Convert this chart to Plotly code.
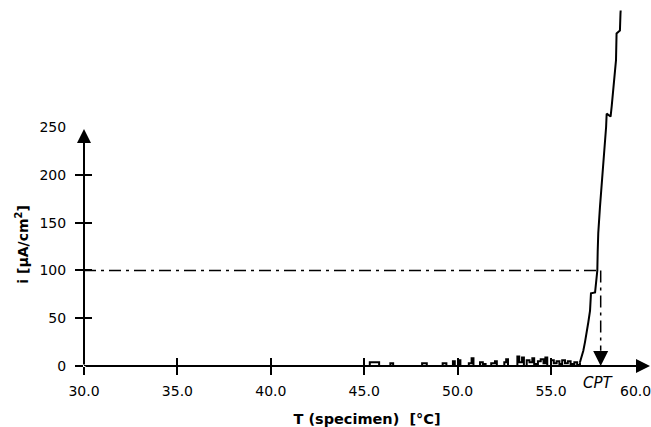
import plotly.graph_objects as go

temp = [30.0, 45.2, 45.3, 45.8, 46.4, 46.55, 48.1, 48.35, 49.2, 49.4,
        49.75, 49.85, 50.05, 50.15, 50.6, 50.75, 50.85, 51.2, 51.35, 51.5,
        51.8, 52.0, 52.1, 52.5, 52.6, 52.7, 53.2, 53.3, 53.45, 53.55,
        53.7, 53.85, 54.0, 54.1, 54.3, 54.45, 54.6, 54.7, 54.8, 55.0,
        55.15, 55.3, 55.45, 55.6, 55.75, 55.9, 56.05, 56.25, 56.4, 56.55,
        56.65, 56.73, 56.82, 56.91, 57.0, 57.09, 57.14, 57.36, 57.41, 57.48,
        57.5, 57.53, 57.62, 57.7, 57.77, 57.84, 57.89, 57.95, 57.98, 58.19,
        58.25, 58.3, 58.36, 58.42, 58.48, 58.51, 58.69, 58.72, 58.73]
current = [0, 0, 4, 0, 3, 0, 3, 0, 3, 0,
           5, 0, 6, 0, 3, 8, 0, 4, 2, 0,
           3, 5, 0, 4, 7, 0, 10, 4, 9, 0,
           6, 4, 8, 2, 5, 7, 3, 9, 0, 6,
           3, 5, 2, 6, 3, 5, 2, 4, 1, 4,
           10, 16, 25, 34, 46, 58, 76, 77, 90, 100,
           120, 139, 166, 185, 202, 215, 229, 250, 264, 261,
           272, 282, 295, 306, 320, 348, 351, 369, 372]
onset_temp = 56.55  # noise before this, pitting rise after

x_ticks = [30, 35, 40, 45, 50, 55]
x_labels = ["30.0", "35.0", "40.0", "45.0", "50.0", "55.0"]
y_ticks = [0, 50, 100, 150, 200]
y_labels = [0, 50, 100, 150, 200, 250]

cpt_temp = 57.66
crit_current = 100

x_range = [30, 60.3]
y_range = [0, 377.7]

font = dict(family="DejaVu Sans", size=14, color="black")

split = temp.index(onset_temp)
fig = go.Figure()
fig.add_trace(go.Scatter(x=temp[:split + 1], y=current[:split + 1], mode="lines", line_shape="hv",
                         line=dict(color="black", width=2), showlegend=False))
fig.add_trace(go.Scatter(x=temp[split:], y=current[split:], mode="lines",
                         line=dict(color="black", width=2), showlegend=False))

# critical current level and CPT drop line
fig.add_shape(type="line", x0=x_range[0], x1=cpt_temp, y0=crit_current, y1=crit_current,
              line=dict(color="black", width=1.5, dash="12px,5px,3px,5px"))
fig.add_shape(type="line", x0=cpt_temp, x1=cpt_temp, y0=crit_current, y1=16,
              line=dict(color="black", width=1.5, dash="12px,5px,3px,5px"))

arrow = dict(text="", showarrow=True, axref="x", ayref="y", arrowhead=2,
             arrowsize=1.4, arrowwidth=2, arrowcolor="black", standoff=0)
fig.add_annotation(x=x_range[1], y=0, ax=x_range[0], ay=0, **arrow)
fig.add_annotation(x=x_range[0], y=248, ax=x_range[0], ay=0, **arrow)
fig.add_annotation(x=cpt_temp, y=0, ax=cpt_temp, ay=16,
                   **{**arrow, "arrowwidth": 1.5, "arrowsize": 2})

fig.add_annotation(x=cpt_temp, y=0, text="<i>CPT</i>", showarrow=False,
                   yshift=-17, xshift=-2, font=dict(family="DejaVu Sans", size=15))
fig.add_annotation(x=60, y=0, text="60.0", showarrow=False,
                   yshift=-25, xshift=-9, font=font)
fig.add_annotation(x=-0.1095, xref="paper", xanchor="center", y=127, yref="y",
                   textangle=-90, text="<b>i [µA/cm<sup>2</sup>]</b>", showarrow=False,
                   font=dict(family="DejaVu Sans", size=14))

common = dict(showgrid=False, zeroline=False, showline=False, automargin=False,
              tickwidth=2, tickcolor="black", ticklen=8)
fig.update_layout(
    width=651, height=427,
    margin=dict(l=84, r=1, t=5, b=61),
    paper_bgcolor="white", plot_bgcolor="white",
    font=font,
    xaxis=dict(range=x_range, tickmode="array", tickvals=x_ticks, ticktext=x_labels,
               ticks="outside", ticklabelstandoff=4,
               title=dict(text="<b>T (specimen)\u00a0\u00a0[°C]</b>", standoff=17,
                          font=dict(family="DejaVu Sans", size=14.5)),
               **common),
    xaxis2=dict(range=x_range, overlaying="x", anchor="y", side="bottom",
                tickmode="array", tickvals=x_ticks, ticks="inside",
                showticklabels=False, **common),
    yaxis=dict(range=y_range, tickmode="array", tickvals=y_labels,
               ticks="outside", ticklabelstandoff=6, **{**common, "tickcolor": "rgba(0,0,0,0)"}),
    yaxis2=dict(range=y_range, overlaying="y", anchor="x", side="left",
                tickmode="array", tickvals=y_ticks, ticks="outside",
                showticklabels=False, **common),
    yaxis3=dict(range=y_range, overlaying="y", anchor="x", side="left",
                tickmode="array", tickvals=y_ticks, ticks="inside",
                showticklabels=False, **common),
)
# invisible traces so the overlay axes get drawn
fig.add_trace(go.Scatter(x=[None], y=[None], xaxis="x2", yaxis="y2", showlegend=False))
fig.add_trace(go.Scatter(x=[None], y=[None], xaxis="x", yaxis="y3", showlegend=False))

fig.write_html("out.html", config={"displayModeBar": False},
               post_script="document.body.style.margin = '0';")
